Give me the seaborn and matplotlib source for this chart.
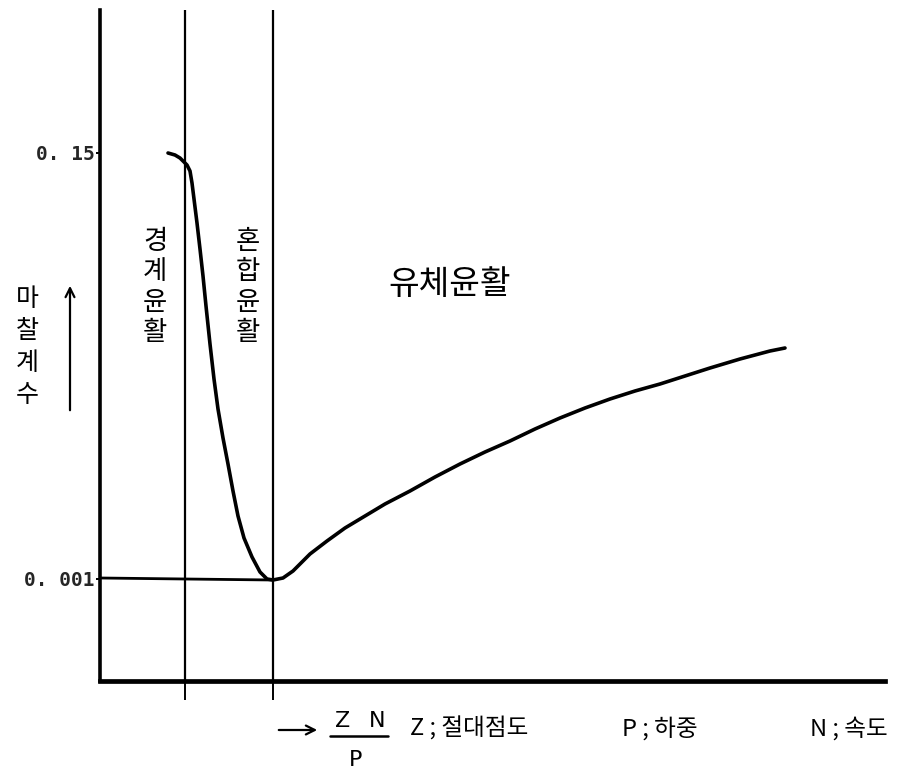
import matplotlib
matplotlib.use("Agg")
import matplotlib.pyplot as plt
import seaborn as sns
import pandas as pd
from matplotlib.lines import Line2D

# ---- data (arbitrary units) ----
zn_p_curve = [68, 75, 80, 87, 90, 92, 94, 97, 100, 103, 106, 110, 114, 118, 123,
              128, 133, 138, 144, 152, 160, 167, 173,
              183, 193, 210, 227, 245, 260, 285, 310, 335, 360, 385, 410, 435,
              460, 485, 510, 535, 560, 585, 610, 640, 670, 685]
mu_curve = [528, 526, 523, 516, 510, 498, 482, 458, 432, 405, 375, 337, 302, 272,
            243, 217, 190, 165, 143, 124, 109, 102, 101,
            103, 110, 127, 140, 153, 162, 177, 190, 204, 217, 229, 240, 252,
            263, 273, 282, 290, 297, 305, 313, 322, 330, 333]
zn_p_base = [0, 85, 173]
mu_base = [103, 102, 101]
region_bounds = [85, 173]
ytick_pos = [528, 102]
ytick_labels = ["0. 15", "0. 001"]
regions_vertical = ["경계윤활", "혼합윤활"]
region_fluid = "유체윤활"
ylabel = "마찰계수"
legend_items = ["Z ; 절대점도", "P ; 하중", "N ; 속도"]

W, H = 923, 777
sns.set_theme(style="white")
plt.rcParams['font.family'] = ['Noto Sans CJK KR', 'DejaVu Sans']

fig = plt.figure(figsize=(W / 100, H / 100), dpi=100)
ax = fig.add_axes([100 / W, 1 - 681 / H, 785 / W, 671 / H])

def fp(x, y):
    return (x / W, 1 - y / H)

curve = pd.DataFrame({"x": zn_p_curve, "y": mu_curve})
base = pd.DataFrame({"x": zn_p_base, "y": mu_base})
sns.lineplot(data=curve, x="x", y="y", sort=False, estimator=None, color="black",
             lw=2.6, ax=ax, solid_joinstyle="round", solid_capstyle="round")
sns.lineplot(data=base, x="x", y="y", sort=False, estimator=None, color="black",
             lw=2.0, ax=ax)
for b in region_bounds:
    ax.axvline(b, color="black", lw=1.6)

ax.set_xlim(0, 785)
ax.set_ylim(0, 671)
ax.set_xlabel("")
ax.set_ylabel("")
for s in ["top", "right"]:
    ax.spines[s].set_visible(False)
ax.spines["left"].set_color("black")
ax.spines["left"].set_linewidth(2.6)
ax.spines["bottom"].set_color("black")
ax.spines["bottom"].set_linewidth(3.4)

ax.set_xticks(region_bounds)
ax.set_xticklabels([])
ax.tick_params(axis="x", direction="out", length=14, width=1.4, color="black",
               pad=2, bottom=True)
ax.set_yticks(ytick_pos)
ax.set_yticklabels(ytick_labels, fontfamily="DejaVu Sans Mono", fontweight="bold",
                   fontsize=14)
ax.tick_params(axis="y", direction="out", length=3, width=1.4, color="black",
               pad=1, left=True)

# vertical region labels
for label, xpx in zip(regions_vertical, [155, 248]):
    fig.text(*fp(xpx, 287), "\n".join(label), ha="center", va="center",
             fontsize=19, linespacing=1.15, color="black")
fig.text(*fp(450, 285), region_fluid, ha="center", va="center", fontsize=24,
         color="black")

# y label + arrow
fig.text(*fp(27, 347), "\n".join(ylabel), ha="center", va="center",
         fontsize=18, linespacing=1.3, color="black")
ax.annotate("", xy=fp(70, 283), xytext=fp(70, 413), xycoords="figure fraction",
            textcoords="figure fraction",
            arrowprops=dict(arrowstyle="->", lw=1.6, color="black",
                            mutation_scale=16))

# x label
ax.annotate("", xy=fp(320, 730), xytext=fp(276, 730), xycoords="figure fraction",
            textcoords="figure fraction",
            arrowprops=dict(arrowstyle="->", lw=1.6, color="black",
                            mutation_scale=16))
fig.text(*fp(343, 721), "Z", ha="center", va="center", fontsize=16,
         fontfamily="DejaVu Sans", color="black")
fig.text(*fp(377, 721), "N", ha="center", va="center", fontsize=16,
         fontfamily="DejaVu Sans", color="black")
fig.add_artist(Line2D([330 / W, 388 / W], [1 - 736 / H, 1 - 736 / H],
                      color="black", lw=1.8))
fig.text(*fp(356, 760), "P", ha="center", va="center", fontsize=16,
         fontfamily="DejaVu Sans", color="black")
for txt, xpx in zip(legend_items, [410, 622, 810]):
    fig.text(*fp(xpx, 729), txt, ha="left", va="center", fontsize=17,
             color="black")

fig.savefig("out.png", dpi=100, facecolor="white")
